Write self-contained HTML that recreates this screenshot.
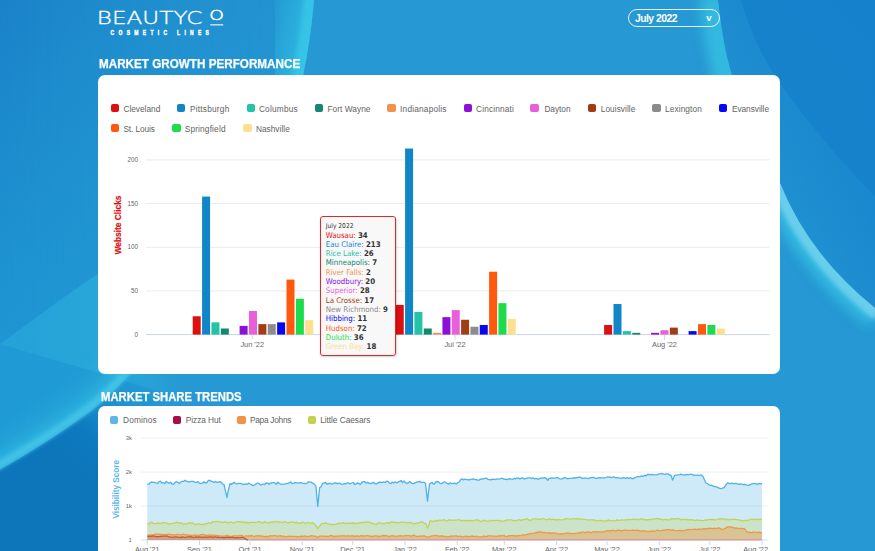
<!DOCTYPE html>
<html lang="en"><head><meta charset="utf-8"><title>BeautyCo Dashboard</title>
<style>
*{box-sizing:border-box;margin:0;padding:0}
html,body{width:875px;height:551px;overflow:hidden;background:#2698d3;font-family:"Liberation Sans",sans-serif}
#bg{position:absolute;left:0;top:0;width:875px;height:551px;overflow:hidden}
#bg svg{display:block}
.logo{position:absolute;left:0;top:0;width:300px;height:40px}
.select{position:absolute;left:627.7px;top:9.1px;width:92px;height:18.2px;border:1.4px solid rgba(255,255,255,.88);border-radius:10px;color:#fff;font-weight:bold;font-size:10.4px;letter-spacing:-0.52px;line-height:16.4px;padding-left:6.2px}
.select span{position:relative;top:0.8px}
.select i{position:absolute;right:7.0px;top:0.4px;font-style:normal;font-size:9.6px;letter-spacing:0}
h2{position:absolute;color:#fff;font-weight:bold;font-size:12.3px;-webkit-text-stroke:0.25px #fff;line-height:14px;white-space:nowrap}
.card{position:absolute;left:98px;width:682.4px;background:#fff;border-radius:7px}
.c1{top:74.8px;height:299.4px}
.c2{top:406.2px;height:144.8px;border-radius:7px 7px 0 0;overflow:hidden}
.card svg{position:absolute;left:0;top:0;overflow:visible}
.sw{position:absolute;width:8.4px;height:8px;border-radius:2px}
.lt{position:absolute;font-size:8.3px;line-height:12px;color:#636363;white-space:nowrap}
.ax{font-size:6.3px;fill:#666}
.a2{font-size:5.9px}
.xl{font-size:7.4px;fill:#666}
.yt{font-size:9.6px;font-weight:bold;fill:#dc1010;stroke:#dc1010;stroke-width:0.2px}
.yt2{font-size:9px;font-weight:bold;fill:#5bb8e6}
.tip{position:absolute;left:222.4px;top:140.8px;width:76px;height:140.6px;border:1px solid #dc2a2a;border-radius:3px;background:rgba(247,247,247,.93);box-shadow:0.5px 1px 2px rgba(0,0,0,.18);padding:4.7px 0 0 4.4px;color:#333;white-space:nowrap;font-family:'DejaVu Sans Condensed','DejaVu Sans',sans-serif}
.tth{font-size:6.6px;line-height:9px;height:9.3px;position:relative;top:0.5px}
.ttl{font-size:7.8px;line-height:9.3px;height:9.3px}
</style></head><body>
<div id="bg"><svg width="875" height="551" viewBox="0 0 875 551">
<defs>
<linearGradient id="gv" x1="0" x2="170" y1="0" y2="340" gradientUnits="userSpaceOnUse"><stop offset="0" stop-color="#1a82c8"/><stop offset="0.3" stop-color="#1c8acc"/><stop offset="0.65" stop-color="#1e93d1"/><stop offset="1" stop-color="#1f97d3"/></linearGradient>
<linearGradient id="gh" x1="0" x2="330" y1="0" y2="0" gradientUnits="userSpaceOnUse"><stop offset="0" stop-color="#fff"/><stop offset="0.3" stop-color="#fff" stop-opacity="0.72"/><stop offset="0.65" stop-color="#fff" stop-opacity="0.42"/><stop offset="1" stop-color="#fff" stop-opacity="0.3"/></linearGradient>
<mask id="mh"><rect width="330" height="551" fill="url(#gh)"/></mask>
<linearGradient id="gr" x1="730" x2="875" y1="120" y2="40" gradientUnits="userSpaceOnUse"><stop offset="0" stop-color="#1f91d1"/><stop offset="0.5" stop-color="#1a88ce"/><stop offset="1" stop-color="#1a87cd"/></linearGradient>
<linearGradient id="gr2" x1="760" x2="875" y1="120" y2="20" gradientUnits="userSpaceOnUse"><stop offset="0" stop-color="#1783cc"/><stop offset="1" stop-color="#1580cb"/></linearGradient>
<linearGradient id="gd" x1="70" x2="150" y1="465" y2="385" gradientUnits="userSpaceOnUse"><stop offset="0" stop-color="#0b76bb"/><stop offset="0.3" stop-color="#0c79be"/><stop offset="1" stop-color="#1a8ccc" stop-opacity="0"/></linearGradient>
<linearGradient id="gt" x1="0" x2="190" y1="0" y2="0" gradientUnits="userSpaceOnUse"><stop offset="0" stop-color="#27a5d9" stop-opacity="0.75"/><stop offset="0.55" stop-color="#28a7da" stop-opacity="1"/><stop offset="0.7" stop-color="#28a7da" stop-opacity="1"/><stop offset="1" stop-color="#28a2d8" stop-opacity="0"/></linearGradient>
<linearGradient id="gt2" x1="0" x2="190" y1="0" y2="0" gradientUnits="userSpaceOnUse"><stop offset="0" stop-color="#209dd5" stop-opacity="0.6"/><stop offset="0.7" stop-color="#229ed6" stop-opacity="0.6"/><stop offset="1" stop-color="#229ed6" stop-opacity="0"/></linearGradient>
<filter id="b1" x="-20%" y="-20%" width="140%" height="140%"><feGaussianBlur stdDeviation="1.2"/></filter>
<filter id="b2" x="-20%" y="-20%" width="140%" height="140%"><feGaussianBlur stdDeviation="2"/></filter>
<filter id="b3" x="-10%" y="-10%" width="120%" height="120%"><feGaussianBlur stdDeviation="2.2"/></filter>
<filter id="b4" x="-30%" y="-30%" width="160%" height="160%"><feGaussianBlur stdDeviation="4"/></filter>
<filter id="b6" x="-20%" y="-20%" width="140%" height="140%"><feGaussianBlur stdDeviation="6"/></filter>
<filter id="b10" x="-30%" y="-30%" width="160%" height="160%"><feGaussianBlur stdDeviation="10"/></filter>
<clipPath id="cl1"><path d="M718,0 C722,35 726,55 732,75 C742,110 760,148 780,183 Q808.5,254.5 875,308 L875,551 L0,551 L0,0 Z"/></clipPath>
<clipPath id="cl2"><path d="M0,0 L314,0 Q310.5,40 303,76 C290,180 220,290 129,375 C118,387 105,400 91,411 C62,432 30,452.5 0,469.5 Z"/></clipPath>
</defs>
<rect width="875" height="551" fill="#2698d3"/>
<g clip-path="url(#cl2)"><rect width="330" height="551" fill="url(#gv)" mask="url(#mh)"/></g>
<!-- right dark zone -->
<path d="M718,0 C722,35 726,55 732,75 C742,110 760,148 780,183 Q808.5,254.5 875,308 L875,0 Z" fill="url(#gr)"/>
<path d="M741,0 C752,40 770,70 789,96 S840,160 875,197 L875,0 Z" fill="url(#gr2)"/>
<!-- right streak -->
<g clip-path="url(#cl1)">
<path d="M718,-5 C722,35 726,55 732,75 C742,110 760,148 780,183 Q808.5,254.5 880,312" fill="none" stroke="#35bde2" stroke-width="38" filter="url(#b6)" opacity="0.9"/>
<path d="M745,120 C752,140 765,160 780,183 Q808.5,254.5 880,312" fill="none" stroke="#7ed6f0" stroke-width="20" filter="url(#b3)" opacity="0.72"/>
</g>
<!-- left light triangle -->
<path d="M0,344 L60,300 L190,210 L190,401 L98,373 Z" fill="url(#gt)"/>
<path d="M0,344 L98,373 L190,401 L190,420 L0,466 Z" fill="url(#gt2)"/>
<!-- dark lower-left -->
<path d="M-20,479.5 C30,451.5 62,432 91,411 C105,400 118,387 129,375 C180,330 240,290 300,270 L300,580 L-20,580 Z" fill="url(#gd)" filter="url(#b3)"/>
<!-- big left swoosh: glow on the inner side of the curve -->
<g clip-path="url(#cl2)">
<path d="M316,-8 Q311,40 304,76 C290,180 220,290 129,375 C118,387 105,400 91,411 C62,432 30,452.5 -5,472" fill="none" stroke="#33bce2" stroke-width="22" filter="url(#b6)" opacity="0.8"/>
<path d="M200,310 Q170,340 129,375 C118,387 105,400 91,411 C62,432 30,452.5 -5,472" fill="none" stroke="#33bce2" stroke-width="50" filter="url(#b10)" opacity="0.36"/>
<path d="M316,-8 Q311,40 303,76 L285,130" fill="none" stroke="#30bde3" stroke-width="66" filter="url(#b10)" opacity="0.6"/>
<path d="M315,-8 Q310,40 302,76 L286,130" fill="none" stroke="#38c8e8" stroke-width="20" filter="url(#b2)" opacity="0.75"/>
</g>
<path d="M-6,468 C28,448.5 60,428.5 89,407.5 C103,396.5 116,384 127,372 T175,335" fill="none" stroke="#4cc6e8" stroke-width="7" filter="url(#b3)" opacity="0.8"/>
</svg>
</div>
<div class="logo"><svg width="300" height="40" viewBox="0 0 300 40">
<text fill="#fff" stroke="#fff" font-family="'DejaVu Sans Light','DejaVu Sans',sans-serif" font-weight="200"><tspan x="96.8" y="23.8" stroke-width="0.36" font-size="18.2" textLength="105.6" lengthAdjust="spacingAndGlyphs">BEAUTYC</tspan><tspan x="209.3" y="20.3" stroke-width="0.5" font-size="13.4" textLength="14.6" lengthAdjust="spacingAndGlyphs">O</tspan></text>
<rect x="210.2" y="24.3" width="13" height="1.1" fill="#fff"/>
<text transform="translate(110.6 34.8) scale(0.62 1)" x="0" y="0" fill="#fff" font-family="'Liberation Sans',sans-serif" font-weight="bold" stroke="#fff" stroke-width="0.5" font-size="8" textLength="158.6" lengthAdjust="spacing">COSMETIC LINES</text>
</svg></div>
<div class="select"><span>July 2022</span><i>v</i></div>
<h2 class="fit" id="h_1" style="left:99.2px;top:57.0px;transform:scaleX(0.9500);transform-origin:0 0;">MARKET GROWTH PERFORMANCE</h2>
<div class="card c1">
<span class="sw" style="left:12.6px;top:29.3px;background:#dc1010"></span>
<span class="lt fit" id="l1_Cleveland" style="left:25.4px;top:27.9px;letter-spacing:-0.001px;">Cleveland</span>
<span class="sw" style="left:78.9px;top:29.3px;background:#1086c8"></span>
<span class="lt fit" id="l1_Pittsburgh" style="left:92.0px;top:27.9px;letter-spacing:0.214px;">Pittsburgh</span>
<span class="sw" style="left:148.6px;top:29.3px;background:#22c3a6"></span>
<span class="lt fit" id="l1_Columbus" style="left:160.9px;top:27.9px;letter-spacing:0.205px;">Columbus</span>
<span class="sw" style="left:217.1px;top:29.3px;background:#13876f"></span>
<span class="lt fit" id="l1_Fort_Wayne" style="left:229.4px;top:27.9px;letter-spacing:0.052px;">Fort Wayne</span>
<span class="sw" style="left:289.2px;top:29.3px;background:#f0924a"></span>
<span class="lt fit" id="l1_Indianapolis" style="left:302.1px;top:27.9px;letter-spacing:0.192px;">Indianapolis</span>
<span class="sw" style="left:365.7px;top:29.3px;background:#8c10d8"></span>
<span class="lt fit" id="l1_Cincinnati" style="left:378.0px;top:27.9px;letter-spacing:0.146px;">Cincinnati</span>
<span class="sw" style="left:432.4px;top:29.3px;background:#e85fd9"></span>
<span class="lt fit" id="l1_Dayton" style="left:446.4px;top:27.9px;letter-spacing:-0.033px;">Dayton</span>
<span class="sw" style="left:489.8px;top:29.3px;background:#a23c12"></span>
<span class="lt fit" id="l1_Louisville" style="left:502.8px;top:27.9px;letter-spacing:0.036px;">Louisville</span>
<span class="sw" style="left:554.2px;top:29.3px;background:#8c8c8c"></span>
<span class="lt fit" id="l1_Lexington" style="left:567.0px;top:27.9px;letter-spacing:0.102px;">Lexington</span>
<span class="sw" style="left:620.5px;top:29.3px;background:#0808f0"></span>
<span class="lt fit" id="l1_Evansville" style="left:633.9px;top:27.9px;letter-spacing:-0.026px;">Evansville</span>
<span class="sw" style="left:12.6px;top:49.5px;background:#ff590e"></span>
<span class="lt fit" id="l1_St_Louis" style="left:25.4px;top:48.5px;letter-spacing:-0.100px;">St. Louis</span>
<span class="sw" style="left:74.2px;top:49.5px;background:#1ddc4c"></span>
<span class="lt fit" id="l1_Springfield" style="left:86.7px;top:48.5px;letter-spacing:0.162px;">Springfield</span>
<span class="sw" style="left:145.3px;top:49.5px;background:#fbe18d"></span>
<span class="lt fit" id="l1_Nashville" style="left:157.9px;top:48.5px;letter-spacing:0.025px;">Nashville</span>
<svg width="682" height="299">
<line x1="48" x2="671.5" y1="259.6" y2="259.6" stroke="#ccd6eb" stroke-width="1"/>
<text class="ax" x="40.0" y="261.5" text-anchor="end">0</text>
<line x1="48" x2="671.5" y1="215.9" y2="215.9" stroke="#ebebeb" stroke-width="1"/>
<text class="ax" x="40.0" y="217.8" text-anchor="end">50</text>
<line x1="48" x2="671.5" y1="172.3" y2="172.3" stroke="#ebebeb" stroke-width="1"/>
<text class="ax" x="40.0" y="174.2" text-anchor="end">100</text>
<line x1="48" x2="671.5" y1="128.6" y2="128.6" stroke="#ebebeb" stroke-width="1"/>
<text class="ax" x="40.0" y="130.5" text-anchor="end">150</text>
<line x1="48" x2="671.5" y1="84.9" y2="84.9" stroke="#ebebeb" stroke-width="1"/>
<text class="ax" x="40.0" y="86.8" text-anchor="end">200</text>
<rect x="94.70" y="241.26" width="8" height="18.34" fill="#dc1010"/>
<rect x="104.08" y="121.59" width="8" height="138.01" fill="#1086c8"/>
<rect x="113.46" y="247.37" width="8" height="12.23" fill="#22c3a6"/>
<rect x="122.84" y="253.49" width="8" height="6.11" fill="#13876f"/>
<rect x="141.60" y="250.87" width="8" height="8.74" fill="#8c10d8"/>
<rect x="150.98" y="236.02" width="8" height="23.58" fill="#e85fd9"/>
<rect x="160.36" y="249.12" width="8" height="10.48" fill="#a23c12"/>
<rect x="169.74" y="249.12" width="8" height="10.48" fill="#8c8c8c"/>
<rect x="179.12" y="247.37" width="8" height="12.23" fill="#0808f0"/>
<rect x="188.50" y="204.57" width="8" height="55.03" fill="#ff590e"/>
<rect x="197.88" y="223.79" width="8" height="35.81" fill="#1ddc4c"/>
<rect x="207.26" y="245.19" width="8" height="14.41" fill="#fbe18d"/>
<rect x="297.75" y="229.90" width="8" height="29.70" fill="#dc1010"/>
<rect x="307.08" y="73.54" width="8" height="186.06" fill="#1086c8"/>
<rect x="316.42" y="236.89" width="8" height="22.71" fill="#22c3a6"/>
<rect x="325.75" y="253.49" width="8" height="6.11" fill="#13876f"/>
<rect x="335.09" y="257.85" width="8" height="1.75" fill="#f0924a"/>
<rect x="344.43" y="242.13" width="8" height="17.47" fill="#8c10d8"/>
<rect x="353.76" y="235.14" width="8" height="24.46" fill="#e85fd9"/>
<rect x="363.10" y="244.75" width="8" height="14.85" fill="#a23c12"/>
<rect x="372.43" y="251.74" width="8" height="7.86" fill="#8c8c8c"/>
<rect x="381.76" y="249.99" width="8" height="9.61" fill="#0808f0"/>
<rect x="391.10" y="196.71" width="8" height="62.89" fill="#ff590e"/>
<rect x="400.44" y="228.15" width="8" height="31.45" fill="#1ddc4c"/>
<rect x="409.77" y="243.88" width="8" height="15.72" fill="#fbe18d"/>
<rect x="506.10" y="249.99" width="8" height="9.61" fill="#dc1010"/>
<rect x="515.49" y="229.03" width="8" height="30.57" fill="#1086c8"/>
<rect x="524.88" y="256.11" width="8" height="3.49" fill="#22c3a6"/>
<rect x="534.27" y="257.85" width="8" height="1.75" fill="#13876f"/>
<rect x="553.05" y="257.85" width="8" height="1.75" fill="#8c10d8"/>
<rect x="562.44" y="255.23" width="8" height="4.37" fill="#e85fd9"/>
<rect x="571.83" y="252.61" width="8" height="6.99" fill="#a23c12"/>
<rect x="590.61" y="256.11" width="8" height="3.49" fill="#0808f0"/>
<rect x="600.00" y="249.12" width="8" height="10.48" fill="#ff590e"/>
<rect x="609.39" y="249.99" width="8" height="9.61" fill="#1ddc4c"/>
<rect x="618.78" y="253.49" width="8" height="6.11" fill="#fbe18d"/>
<line x1="154.2" x2="154.2" y1="259.6" y2="264.6" stroke="#ccd6eb" stroke-width="1"/>
<text class="xl" x="154.2" y="272.3" text-anchor="middle">Jun '22</text>
<line x1="357.0" x2="357.0" y1="259.6" y2="264.6" stroke="#ccd6eb" stroke-width="1"/>
<text class="xl" x="357.0" y="272.3" text-anchor="middle">Jul '22</text>
<line x1="566.5" x2="566.5" y1="259.6" y2="264.6" stroke="#ccd6eb" stroke-width="1"/>
<text class="xl" x="566.5" y="272.3" text-anchor="middle">Aug '22</text>
<text class="yt" transform="translate(23.4,150.0) rotate(-90)" text-anchor="middle" textLength="59" lengthAdjust="spacingAndGlyphs">Website Clicks</text>
</svg>
<div class="tip">
<div class="tth">July 2022</div>
<div class="ttl"><span style="color:#dc1010">Wausau:</span> <b>34</b></div>
<div class="ttl"><span style="color:#1086c8">Eau Claire:</span> <b>213</b></div>
<div class="ttl"><span style="color:#22c3a6">Rice Lake:</span> <b>26</b></div>
<div class="ttl"><span style="color:#13876f">Minneapolis:</span> <b>7</b></div>
<div class="ttl"><span style="color:#f0924a">River Falls:</span> <b>2</b></div>
<div class="ttl"><span style="color:#8c10d8">Woodbury:</span> <b>20</b></div>
<div class="ttl"><span style="color:#e85fd9">Superior:</span> <b>28</b></div>
<div class="ttl"><span style="color:#a23c12">La Crosse:</span> <b>17</b></div>
<div class="ttl"><span style="color:#8c8c8c">New Richmond:</span> <b>9</b></div>
<div class="ttl"><span style="color:#0808f0">Hibbing:</span> <b>11</b></div>
<div class="ttl"><span style="color:#ff590e">Hudson:</span> <b>72</b></div>
<div class="ttl"><span style="color:#1ddc4c">Duluth:</span> <b>36</b></div>
<div class="ttl"><span style="color:#fbe18d">Green Bay:</span> <b>18</b></div>
</div>
</div>
<h2 class="fit" id="h_2" style="left:101.4px;top:390.1px;transform:scaleX(0.9187);transform-origin:0 0;">MARKET SHARE TRENDS</h2>
<div class="card c2">
<span class="sw" style="left:11.6px;top:9.9px;background:#5bb8e6"></span>
<span class="lt fit" id="l2_Dominos" style="left:25.1px;top:7.7px;letter-spacing:0.121px;">Dominos</span>
<span class="sw" style="left:75.0px;top:9.9px;background:#a80d47"></span>
<span class="lt fit" id="l2_Pizza_Hut" style="left:87.8px;top:7.7px;letter-spacing:-0.057px;">Pizza Hut</span>
<span class="sw" style="left:139.3px;top:9.9px;background:#f0924a"></span>
<span class="lt fit" id="l2_Papa_Johns" style="left:152.0px;top:7.7px;letter-spacing:-0.273px;">Papa Johns</span>
<span class="sw" style="left:209.5px;top:9.9px;background:#c3d350"></span>
<span class="lt fit" id="l2_Little_Caesars" style="left:222.2px;top:7.7px;letter-spacing:-0.045px;">Little Caesars</span>
<svg width="682" height="145">
<line x1="43" x2="669.7" y1="32.1" y2="32.1" stroke="#efefef"/>
<text class="ax a2" x="33.900000000000006" y="34.1" text-anchor="end">3k</text>
<line x1="43" x2="669.7" y1="66.1" y2="66.1" stroke="#efefef"/>
<text class="ax a2" x="33.900000000000006" y="68.1" text-anchor="end">2k</text>
<line x1="43" x2="669.7" y1="100.1" y2="100.1" stroke="#efefef"/>
<text class="ax a2" x="33.900000000000006" y="102.1" text-anchor="end">1k</text>
<line x1="43" x2="669.7" y1="134.0" y2="134.0" stroke="#d4dcec"/>
<text class="ax a2" x="33.900000000000006" y="136.0" text-anchor="end">1</text>
<path d="M49.3 78.2 L50.8 78.3 L52.0 76.8 L53.6 76.0 L55.1 76.4 L56.5 76.4 L58.0 77.0 L59.4 77.5 L60.9 75.9 L62.3 75.2 L63.8 77.1 L65.2 76.7 L66.7 77.5 L68.1 75.7 L69.6 76.3 L71.0 77.3 L72.5 76.3 L73.9 77.9 L75.4 78.4 L77.0 76.8 L78.3 75.5 L79.7 76.3 L81.2 77.5 L82.6 76.3 L84.1 75.3 L85.5 75.4 L87.0 74.2 L88.0 75.1 L89.9 75.5 L91.3 75.9 L92.8 75.4 L94.2 75.4 L95.7 75.5 L97.1 76.3 L98.6 76.3 L100.0 75.7 L102.0 77.6 L102.9 77.4 L104.4 77.2 L105.8 75.7 L107.3 77.0 L108.7 76.8 L110.2 74.5 L112.0 74.3 L113.1 75.2 L114.5 75.6 L116.0 76.5 L117.4 75.5 L118.9 76.4 L120.3 76.4 L121.8 75.6 L123.0 76.0 L124.7 78.2 L126.0 78.4 L127.6 85.3 L129.0 91.5 L130.5 83.5 L132.0 77.7 L133.4 78.4 L134.8 77.4 L136.3 76.3 L137.0 76.9 L137.7 77.6 L139.2 77.9 L140.6 77.3 L142.1 77.3 L143.5 77.6 L145.0 78.5 L146.4 78.3 L147.9 77.9 L149.3 78.1 L150.8 77.1 L152.0 78.0 L153.7 78.7 L155.1 79.7 L156.6 78.9 L158.0 78.0 L159.5 77.0 L160.9 77.5 L162.4 78.9 L163.8 78.8 L165.3 78.0 L166.7 78.5 L168.2 77.0 L169.6 77.1 L171.1 78.3 L172.0 77.2 L174.0 77.0 L175.4 76.4 L176.9 76.9 L178.3 78.2 L179.8 76.1 L181.2 77.4 L182.7 78.0 L184.1 78.4 L185.6 78.1 L187.0 78.2 L188.5 77.5 L189.9 77.3 L191.4 76.9 L192.8 75.8 L194.3 77.6 L195.7 77.4 L197.2 76.3 L198.6 76.8 L200.1 76.9 L202.0 76.9 L203.0 76.6 L204.4 77.0 L205.9 77.5 L207.3 77.6 L208.8 77.3 L210.2 76.0 L211.7 76.2 L213.1 76.1 L214.6 77.2 L216.0 77.8 L218.0 80.3 L218.9 91.5 L219.8 100.4 L221.6 81.8 L223.3 80.4 L224.0 78.7 L224.7 77.4 L226.2 76.8 L227.6 76.5 L229.1 78.4 L230.5 77.7 L232.0 77.1 L233.4 78.2 L234.9 77.8 L236.3 77.0 L237.8 76.9 L239.2 77.8 L240.7 77.2 L242.1 77.2 L243.6 78.4 L245.0 78.1 L246.5 77.6 L247.9 77.8 L249.4 76.7 L250.8 77.2 L252.0 77.9 L253.7 77.0 L255.2 76.5 L256.6 78.4 L258.1 77.9 L259.5 76.9 L261.0 77.6 L262.4 78.3 L263.9 76.4 L265.3 75.7 L266.8 75.7 L268.2 77.2 L269.7 76.2 L271.1 77.3 L272.6 77.5 L274.0 77.2 L275.5 76.2 L276.9 77.8 L278.4 77.9 L279.8 77.1 L281.3 75.9 L282.0 76.6 L282.7 76.2 L284.2 76.5 L285.6 75.9 L287.1 76.5 L288.5 75.2 L290.0 75.3 L291.4 77.1 L292.9 77.5 L294.3 76.1 L295.8 77.0 L297.2 75.8 L298.0 76.3 L298.7 76.8 L300.1 76.1 L301.6 75.4 L303.0 74.5 L304.5 76.6 L305.9 75.0 L307.4 76.6 L308.8 77.5 L310.3 76.8 L311.7 75.5 L313.2 76.9 L314.6 77.7 L316.1 77.3 L317.5 76.6 L319.0 76.0 L320.4 75.8 L321.9 75.3 L323.3 76.4 L325.0 76.3 L326.2 76.3 L327.5 77.6 L329.5 95.3 L330.6 85.2 L331.5 77.9 L334.0 76.5 L334.9 77.6 L336.4 78.0 L337.8 75.8 L339.3 75.5 L340.7 75.8 L342.2 77.6 L343.6 77.7 L345.1 76.6 L346.5 75.8 L348.0 76.8 L349.4 77.6 L350.9 78.1 L352.3 76.7 L353.8 77.7 L355.2 77.5 L356.7 76.9 L358.1 78.0 L360.0 76.5 L361.0 76.1 L363.0 73.4 L363.9 72.9 L365.4 73.9 L366.8 73.2 L368.3 73.7 L369.7 73.7 L371.2 74.0 L372.6 73.4 L374.1 73.1 L375.5 72.9 L377.0 73.7 L378.4 73.6 L379.9 74.1 L381.3 74.1 L382.8 73.0 L384.2 73.2 L385.7 72.6 L387.1 72.3 L388.6 72.2 L390.0 73.4 L391.5 73.6 L392.9 73.8 L394.4 73.1 L395.8 73.3 L397.3 73.5 L398.7 73.0 L400.2 73.1 L402.0 72.9 L403.1 72.3 L404.5 72.4 L406.0 73.3 L407.4 73.1 L408.9 73.6 L410.3 73.0 L411.8 72.6 L413.2 73.1 L414.7 73.4 L416.1 72.2 L417.6 72.8 L419.0 72.1 L420.5 71.9 L421.9 73.0 L423.4 72.0 L424.8 72.0 L426.3 73.1 L427.7 72.6 L429.2 72.0 L430.6 71.8 L432.1 71.8 L433.5 72.6 L435.0 71.9 L436.4 72.8 L437.9 72.3 L439.3 73.0 L440.8 73.2 L442.0 72.3 L443.7 71.9 L445.1 72.1 L446.6 71.6 L448.0 72.3 L449.8 74.3 L450.9 72.5 L452.0 72.3 L453.8 71.9 L455.3 72.2 L456.7 72.1 L458.2 71.9 L459.6 71.4 L461.1 72.5 L462.5 72.9 L464.0 73.1 L465.4 71.9 L466.9 71.6 L468.3 72.1 L469.8 72.8 L471.2 72.4 L472.7 72.4 L474.1 72.4 L475.6 71.8 L477.0 72.0 L478.5 71.7 L479.9 71.5 L481.4 71.2 L482.8 71.3 L484.3 72.5 L485.7 72.0 L487.2 72.2 L488.6 72.2 L490.1 72.7 L491.5 72.0 L493.0 71.6 L494.4 71.5 L495.9 71.5 L497.3 72.2 L498.8 72.5 L500.2 71.8 L502.0 71.7 L503.1 71.8 L504.6 71.9 L506.1 72.0 L507.5 71.5 L509.0 71.0 L510.4 71.2 L511.9 71.0 L513.3 71.6 L514.8 71.2 L516.2 71.0 L517.7 71.8 L519.1 71.5 L520.6 72.2 L522.0 72.0 L523.5 72.5 L524.9 71.6 L526.4 71.8 L527.8 72.4 L529.3 71.5 L530.7 72.5 L532.2 71.7 L533.6 72.3 L535.1 72.8 L536.0 72.2 L538.0 71.3 L539.4 70.5 L540.9 70.6 L542.0 70.7 L543.8 69.9 L545.2 70.4 L546.7 69.2 L548.1 69.8 L549.6 68.5 L551.0 68.3 L552.5 68.9 L554.0 68.4 L555.4 68.9 L556.8 68.9 L558.3 68.8 L559.7 68.6 L561.2 67.8 L562.6 67.9 L564.1 67.5 L565.5 68.2 L567.0 68.3 L568.4 67.8 L570.0 67.8 L571.3 69.0 L573.0 69.2 L574.6 74.0 L575.7 71.6 L576.5 69.7 L577.1 69.4 L578.6 69.1 L580.0 68.8 L582.0 68.7 L582.9 68.1 L584.4 68.8 L585.8 68.8 L587.3 69.0 L588.7 68.3 L590.2 68.6 L591.6 68.3 L593.1 68.3 L594.5 68.5 L596.0 69.4 L597.4 69.1 L598.9 69.1 L600.3 69.4 L602.0 69.2 L603.2 69.0 L605.0 70.4 L606.1 72.9 L608.0 77.1 L609.0 77.5 L611.0 78.7 L611.9 79.3 L613.4 79.2 L614.8 79.9 L616.0 80.5 L617.7 80.6 L619.2 81.1 L620.6 81.8 L622.0 82.4 L623.5 82.7 L625.0 81.8 L626.0 81.9 L627.9 78.8 L629.6 76.9 L630.8 77.2 L632.2 77.8 L633.7 77.0 L635.1 77.6 L637.0 77.6 L638.0 77.3 L639.5 77.8 L640.9 78.3 L642.4 77.8 L643.8 78.2 L645.3 78.5 L646.7 78.4 L648.2 78.9 L649.6 79.1 L651.1 79.4 L652.0 78.6 L654.0 77.9 L655.4 77.7 L656.9 77.5 L658.3 77.9 L659.8 78.3 L661.2 77.3 L662.7 77.8 L664.0 77.7 L664.0 134 L49.3 134 Z" fill="#4fb2e5" fill-opacity="0.28"/>
<path d="M49.3 78.2 L50.8 78.3 L52.0 76.8 L53.6 76.0 L55.1 76.4 L56.5 76.4 L58.0 77.0 L59.4 77.5 L60.9 75.9 L62.3 75.2 L63.8 77.1 L65.2 76.7 L66.7 77.5 L68.1 75.7 L69.6 76.3 L71.0 77.3 L72.5 76.3 L73.9 77.9 L75.4 78.4 L77.0 76.8 L78.3 75.5 L79.7 76.3 L81.2 77.5 L82.6 76.3 L84.1 75.3 L85.5 75.4 L87.0 74.2 L88.0 75.1 L89.9 75.5 L91.3 75.9 L92.8 75.4 L94.2 75.4 L95.7 75.5 L97.1 76.3 L98.6 76.3 L100.0 75.7 L102.0 77.6 L102.9 77.4 L104.4 77.2 L105.8 75.7 L107.3 77.0 L108.7 76.8 L110.2 74.5 L112.0 74.3 L113.1 75.2 L114.5 75.6 L116.0 76.5 L117.4 75.5 L118.9 76.4 L120.3 76.4 L121.8 75.6 L123.0 76.0 L124.7 78.2 L126.0 78.4 L127.6 85.3 L129.0 91.5 L130.5 83.5 L132.0 77.7 L133.4 78.4 L134.8 77.4 L136.3 76.3 L137.0 76.9 L137.7 77.6 L139.2 77.9 L140.6 77.3 L142.1 77.3 L143.5 77.6 L145.0 78.5 L146.4 78.3 L147.9 77.9 L149.3 78.1 L150.8 77.1 L152.0 78.0 L153.7 78.7 L155.1 79.7 L156.6 78.9 L158.0 78.0 L159.5 77.0 L160.9 77.5 L162.4 78.9 L163.8 78.8 L165.3 78.0 L166.7 78.5 L168.2 77.0 L169.6 77.1 L171.1 78.3 L172.0 77.2 L174.0 77.0 L175.4 76.4 L176.9 76.9 L178.3 78.2 L179.8 76.1 L181.2 77.4 L182.7 78.0 L184.1 78.4 L185.6 78.1 L187.0 78.2 L188.5 77.5 L189.9 77.3 L191.4 76.9 L192.8 75.8 L194.3 77.6 L195.7 77.4 L197.2 76.3 L198.6 76.8 L200.1 76.9 L202.0 76.9 L203.0 76.6 L204.4 77.0 L205.9 77.5 L207.3 77.6 L208.8 77.3 L210.2 76.0 L211.7 76.2 L213.1 76.1 L214.6 77.2 L216.0 77.8 L218.0 80.3 L218.9 91.5 L219.8 100.4 L221.6 81.8 L223.3 80.4 L224.0 78.7 L224.7 77.4 L226.2 76.8 L227.6 76.5 L229.1 78.4 L230.5 77.7 L232.0 77.1 L233.4 78.2 L234.9 77.8 L236.3 77.0 L237.8 76.9 L239.2 77.8 L240.7 77.2 L242.1 77.2 L243.6 78.4 L245.0 78.1 L246.5 77.6 L247.9 77.8 L249.4 76.7 L250.8 77.2 L252.0 77.9 L253.7 77.0 L255.2 76.5 L256.6 78.4 L258.1 77.9 L259.5 76.9 L261.0 77.6 L262.4 78.3 L263.9 76.4 L265.3 75.7 L266.8 75.7 L268.2 77.2 L269.7 76.2 L271.1 77.3 L272.6 77.5 L274.0 77.2 L275.5 76.2 L276.9 77.8 L278.4 77.9 L279.8 77.1 L281.3 75.9 L282.0 76.6 L282.7 76.2 L284.2 76.5 L285.6 75.9 L287.1 76.5 L288.5 75.2 L290.0 75.3 L291.4 77.1 L292.9 77.5 L294.3 76.1 L295.8 77.0 L297.2 75.8 L298.0 76.3 L298.7 76.8 L300.1 76.1 L301.6 75.4 L303.0 74.5 L304.5 76.6 L305.9 75.0 L307.4 76.6 L308.8 77.5 L310.3 76.8 L311.7 75.5 L313.2 76.9 L314.6 77.7 L316.1 77.3 L317.5 76.6 L319.0 76.0 L320.4 75.8 L321.9 75.3 L323.3 76.4 L325.0 76.3 L326.2 76.3 L327.5 77.6 L329.5 95.3 L330.6 85.2 L331.5 77.9 L334.0 76.5 L334.9 77.6 L336.4 78.0 L337.8 75.8 L339.3 75.5 L340.7 75.8 L342.2 77.6 L343.6 77.7 L345.1 76.6 L346.5 75.8 L348.0 76.8 L349.4 77.6 L350.9 78.1 L352.3 76.7 L353.8 77.7 L355.2 77.5 L356.7 76.9 L358.1 78.0 L360.0 76.5 L361.0 76.1 L363.0 73.4 L363.9 72.9 L365.4 73.9 L366.8 73.2 L368.3 73.7 L369.7 73.7 L371.2 74.0 L372.6 73.4 L374.1 73.1 L375.5 72.9 L377.0 73.7 L378.4 73.6 L379.9 74.1 L381.3 74.1 L382.8 73.0 L384.2 73.2 L385.7 72.6 L387.1 72.3 L388.6 72.2 L390.0 73.4 L391.5 73.6 L392.9 73.8 L394.4 73.1 L395.8 73.3 L397.3 73.5 L398.7 73.0 L400.2 73.1 L402.0 72.9 L403.1 72.3 L404.5 72.4 L406.0 73.3 L407.4 73.1 L408.9 73.6 L410.3 73.0 L411.8 72.6 L413.2 73.1 L414.7 73.4 L416.1 72.2 L417.6 72.8 L419.0 72.1 L420.5 71.9 L421.9 73.0 L423.4 72.0 L424.8 72.0 L426.3 73.1 L427.7 72.6 L429.2 72.0 L430.6 71.8 L432.1 71.8 L433.5 72.6 L435.0 71.9 L436.4 72.8 L437.9 72.3 L439.3 73.0 L440.8 73.2 L442.0 72.3 L443.7 71.9 L445.1 72.1 L446.6 71.6 L448.0 72.3 L449.8 74.3 L450.9 72.5 L452.0 72.3 L453.8 71.9 L455.3 72.2 L456.7 72.1 L458.2 71.9 L459.6 71.4 L461.1 72.5 L462.5 72.9 L464.0 73.1 L465.4 71.9 L466.9 71.6 L468.3 72.1 L469.8 72.8 L471.2 72.4 L472.7 72.4 L474.1 72.4 L475.6 71.8 L477.0 72.0 L478.5 71.7 L479.9 71.5 L481.4 71.2 L482.8 71.3 L484.3 72.5 L485.7 72.0 L487.2 72.2 L488.6 72.2 L490.1 72.7 L491.5 72.0 L493.0 71.6 L494.4 71.5 L495.9 71.5 L497.3 72.2 L498.8 72.5 L500.2 71.8 L502.0 71.7 L503.1 71.8 L504.6 71.9 L506.1 72.0 L507.5 71.5 L509.0 71.0 L510.4 71.2 L511.9 71.0 L513.3 71.6 L514.8 71.2 L516.2 71.0 L517.7 71.8 L519.1 71.5 L520.6 72.2 L522.0 72.0 L523.5 72.5 L524.9 71.6 L526.4 71.8 L527.8 72.4 L529.3 71.5 L530.7 72.5 L532.2 71.7 L533.6 72.3 L535.1 72.8 L536.0 72.2 L538.0 71.3 L539.4 70.5 L540.9 70.6 L542.0 70.7 L543.8 69.9 L545.2 70.4 L546.7 69.2 L548.1 69.8 L549.6 68.5 L551.0 68.3 L552.5 68.9 L554.0 68.4 L555.4 68.9 L556.8 68.9 L558.3 68.8 L559.7 68.6 L561.2 67.8 L562.6 67.9 L564.1 67.5 L565.5 68.2 L567.0 68.3 L568.4 67.8 L570.0 67.8 L571.3 69.0 L573.0 69.2 L574.6 74.0 L575.7 71.6 L576.5 69.7 L577.1 69.4 L578.6 69.1 L580.0 68.8 L582.0 68.7 L582.9 68.1 L584.4 68.8 L585.8 68.8 L587.3 69.0 L588.7 68.3 L590.2 68.6 L591.6 68.3 L593.1 68.3 L594.5 68.5 L596.0 69.4 L597.4 69.1 L598.9 69.1 L600.3 69.4 L602.0 69.2 L603.2 69.0 L605.0 70.4 L606.1 72.9 L608.0 77.1 L609.0 77.5 L611.0 78.7 L611.9 79.3 L613.4 79.2 L614.8 79.9 L616.0 80.5 L617.7 80.6 L619.2 81.1 L620.6 81.8 L622.0 82.4 L623.5 82.7 L625.0 81.8 L626.0 81.9 L627.9 78.8 L629.6 76.9 L630.8 77.2 L632.2 77.8 L633.7 77.0 L635.1 77.6 L637.0 77.6 L638.0 77.3 L639.5 77.8 L640.9 78.3 L642.4 77.8 L643.8 78.2 L645.3 78.5 L646.7 78.4 L648.2 78.9 L649.6 79.1 L651.1 79.4 L652.0 78.6 L654.0 77.9 L655.4 77.7 L656.9 77.5 L658.3 77.9 L659.8 78.3 L661.2 77.3 L662.7 77.8 L664.0 77.7" fill="none" stroke="#4fb2e5" stroke-width="1.3" stroke-linejoin="round"/>
<path d="M49.3 117.3 L50.8 118.0 L52.2 116.5 L53.6 116.1 L55.1 117.4 L56.5 117.6 L58.0 117.6 L59.4 117.0 L60.9 117.3 L62.3 117.4 L63.8 117.4 L65.2 116.6 L66.7 116.9 L68.1 116.9 L69.6 117.6 L71.0 118.3 L72.0 117.7 L73.9 117.6 L75.4 117.3 L76.8 117.0 L78.3 116.4 L79.7 116.2 L81.2 117.0 L82.6 117.0 L84.1 117.2 L85.5 118.2 L87.0 117.9 L88.4 117.9 L89.9 117.3 L91.3 116.7 L92.8 117.1 L94.2 116.9 L95.7 117.5 L97.1 118.7 L98.6 118.5 L100.0 117.6 L102.0 118.2 L102.9 118.5 L104.4 118.3 L105.8 118.4 L107.3 118.0 L108.7 117.7 L110.2 116.7 L111.6 117.3 L113.1 117.3 L114.5 115.7 L116.0 116.1 L117.0 115.7 L118.9 115.5 L120.3 115.6 L121.8 115.6 L123.2 116.4 L124.7 116.0 L126.1 116.4 L127.6 115.7 L129.0 116.5 L130.5 116.8 L131.9 116.1 L133.4 116.1 L134.8 116.8 L136.3 116.7 L137.7 116.2 L139.2 115.6 L140.6 115.6 L142.1 116.3 L143.5 115.5 L145.0 116.7 L146.4 115.9 L147.9 116.9 L149.3 116.1 L150.8 117.1 L152.0 116.5 L153.7 116.4 L155.1 116.3 L156.6 116.6 L158.0 116.5 L159.5 116.0 L160.9 115.6 L162.4 116.0 L163.8 116.9 L165.3 116.7 L166.7 115.5 L168.2 116.5 L169.6 116.7 L171.1 117.1 L172.5 115.8 L174.0 116.5 L175.4 115.4 L176.9 116.1 L178.3 115.6 L179.8 115.4 L181.2 116.5 L182.0 115.8 L182.7 116.0 L184.1 116.8 L185.6 115.9 L187.0 115.6 L188.5 116.8 L189.9 116.4 L191.4 116.9 L192.8 115.8 L194.3 116.1 L195.7 115.9 L197.2 116.8 L198.6 116.1 L200.1 117.5 L202.0 116.8 L203.0 117.4 L204.4 116.3 L205.9 116.4 L207.3 117.5 L208.8 116.7 L210.2 116.5 L211.7 117.4 L213.1 117.2 L214.6 116.5 L216.0 117.7 L217.5 119.2 L218.9 120.8 L219.8 123.0 L221.8 120.0 L223.0 118.2 L224.7 117.3 L226.2 117.4 L227.6 116.8 L229.1 117.4 L230.5 118.1 L232.0 118.3 L233.4 118.7 L234.9 118.5 L236.3 118.6 L237.8 118.3 L239.2 117.8 L240.7 117.1 L242.0 117.5 L243.6 117.1 L245.0 116.6 L246.5 117.0 L247.9 118.0 L249.4 116.9 L250.8 117.4 L252.3 117.2 L253.7 117.3 L255.2 116.6 L256.6 117.9 L258.1 117.1 L259.5 117.4 L261.0 117.2 L262.4 116.3 L263.9 117.0 L265.3 116.4 L266.8 116.1 L268.2 115.9 L269.7 116.1 L271.1 116.0 L272.6 117.0 L274.0 117.1 L275.5 118.0 L276.9 118.2 L278.4 118.4 L279.8 117.0 L281.3 116.9 L282.0 116.8 L282.7 117.1 L284.2 117.3 L285.6 117.7 L287.1 117.6 L288.5 116.8 L290.0 116.8 L291.4 117.0 L292.9 116.0 L294.3 115.8 L295.8 116.4 L297.2 116.1 L298.7 117.1 L300.1 116.5 L302.0 116.7 L303.0 116.3 L304.5 116.2 L305.9 116.1 L307.4 116.6 L308.8 116.7 L310.3 116.4 L311.7 116.9 L313.2 116.3 L314.6 117.3 L316.1 117.8 L317.5 117.5 L319.0 116.8 L320.4 116.7 L321.9 116.7 L323.3 115.7 L325.0 116.4 L326.2 117.1 L328.0 117.8 L329.5 122.4 L330.6 119.8 L332.0 115.0 L333.5 114.9 L334.9 115.6 L336.4 115.2 L337.8 114.4 L339.3 115.3 L340.7 114.4 L342.0 114.0 L343.6 114.6 L345.1 113.7 L346.5 113.8 L348.0 114.8 L349.4 114.9 L350.9 113.7 L352.3 114.1 L353.8 114.2 L355.2 114.3 L356.7 113.9 L358.1 114.5 L359.6 113.7 L361.0 113.8 L362.5 114.1 L363.9 115.0 L365.4 114.2 L366.8 114.8 L368.3 114.3 L369.7 114.6 L371.2 114.5 L372.6 114.6 L374.1 115.0 L375.5 114.7 L377.0 114.2 L378.4 114.0 L379.9 113.9 L381.3 115.0 L382.0 114.9 L382.8 115.5 L384.2 115.3 L385.7 114.2 L387.1 114.7 L388.6 115.1 L390.0 115.1 L391.5 114.8 L392.9 114.4 L394.4 114.4 L395.8 114.9 L397.3 114.3 L398.7 114.4 L400.2 114.4 L401.6 115.0 L403.1 115.0 L404.5 115.2 L406.0 115.1 L407.4 114.3 L408.9 113.9 L410.3 114.1 L411.8 113.8 L413.2 113.9 L414.7 114.3 L416.1 114.8 L417.6 114.4 L419.0 114.6 L420.5 113.7 L422.0 113.9 L423.4 114.6 L424.8 113.6 L426.3 113.6 L427.7 113.0 L429.2 112.8 L430.6 113.8 L432.1 114.3 L433.5 113.9 L435.0 113.0 L436.4 112.9 L437.9 112.7 L439.3 113.2 L440.8 113.3 L442.0 113.0 L443.7 113.1 L445.1 112.5 L446.6 113.0 L448.0 113.7 L449.5 113.8 L450.9 112.9 L452.4 113.2 L453.8 113.6 L455.3 113.1 L456.7 113.8 L458.2 113.5 L459.6 113.8 L461.1 113.5 L462.0 113.7 L464.0 113.9 L465.4 113.6 L466.9 112.9 L468.3 113.0 L469.8 112.4 L471.2 113.0 L472.7 113.5 L474.1 112.7 L475.6 112.8 L477.0 112.8 L478.5 112.6 L479.9 112.9 L481.4 113.3 L482.0 112.8 L482.8 112.7 L484.3 113.5 L485.7 113.0 L487.2 113.5 L488.6 113.6 L490.1 113.9 L491.5 114.2 L493.0 113.5 L494.4 114.0 L495.9 113.9 L497.3 114.3 L498.8 115.0 L500.2 114.9 L502.0 114.4 L503.1 114.5 L504.6 114.8 L506.1 115.1 L507.5 114.9 L509.0 115.0 L510.4 113.9 L511.9 114.8 L513.3 114.7 L514.8 114.5 L516.2 114.9 L517.7 114.9 L519.1 113.8 L520.6 114.4 L522.0 114.5 L523.5 113.7 L524.9 114.2 L526.4 114.1 L527.8 113.5 L529.3 114.1 L530.7 113.3 L532.2 113.7 L533.6 113.6 L535.1 113.2 L536.5 113.5 L538.0 113.5 L539.4 113.0 L540.9 113.9 L542.0 113.3 L543.8 112.7 L545.2 113.1 L546.7 113.8 L548.1 113.7 L549.6 113.8 L551.0 113.5 L552.5 113.6 L553.9 113.2 L555.4 113.0 L556.8 113.2 L558.3 112.6 L559.7 112.5 L561.2 113.4 L562.6 112.9 L564.1 113.5 L565.5 113.8 L567.0 113.3 L568.4 113.5 L569.9 113.8 L571.3 113.9 L572.8 113.0 L574.2 112.7 L575.7 112.9 L577.1 113.0 L578.6 112.9 L580.0 112.4 L582.0 113.1 L582.9 113.9 L584.4 113.4 L585.8 113.5 L587.3 113.3 L588.7 113.4 L590.2 114.1 L591.6 113.6 L593.1 114.0 L594.5 113.9 L596.0 114.0 L597.4 114.7 L598.9 113.7 L600.3 114.5 L602.0 114.3 L603.2 114.4 L604.7 114.6 L606.1 114.4 L607.6 113.9 L609.0 114.3 L610.5 113.3 L611.9 113.7 L613.4 113.4 L614.8 113.5 L616.3 113.9 L617.7 113.9 L619.2 113.6 L620.6 113.0 L622.0 112.9 L623.5 113.0 L625.0 112.8 L626.4 112.8 L627.9 113.9 L629.3 113.1 L630.8 113.9 L632.2 113.6 L633.7 113.5 L635.1 113.5 L636.6 113.2 L638.0 113.7 L639.5 113.6 L640.9 113.9 L642.0 114.2 L643.8 114.7 L645.3 114.9 L646.7 114.3 L648.2 114.3 L649.6 114.6 L651.1 113.9 L652.5 113.3 L654.0 113.2 L655.4 113.1 L656.9 113.7 L658.3 113.4 L659.8 113.2 L661.2 113.7 L662.7 113.1 L664.0 113.4 L664.0 134 L49.3 134 Z" fill="#c4d34f" fill-opacity="0.28"/>
<path d="M49.3 117.3 L50.8 118.0 L52.2 116.5 L53.6 116.1 L55.1 117.4 L56.5 117.6 L58.0 117.6 L59.4 117.0 L60.9 117.3 L62.3 117.4 L63.8 117.4 L65.2 116.6 L66.7 116.9 L68.1 116.9 L69.6 117.6 L71.0 118.3 L72.0 117.7 L73.9 117.6 L75.4 117.3 L76.8 117.0 L78.3 116.4 L79.7 116.2 L81.2 117.0 L82.6 117.0 L84.1 117.2 L85.5 118.2 L87.0 117.9 L88.4 117.9 L89.9 117.3 L91.3 116.7 L92.8 117.1 L94.2 116.9 L95.7 117.5 L97.1 118.7 L98.6 118.5 L100.0 117.6 L102.0 118.2 L102.9 118.5 L104.4 118.3 L105.8 118.4 L107.3 118.0 L108.7 117.7 L110.2 116.7 L111.6 117.3 L113.1 117.3 L114.5 115.7 L116.0 116.1 L117.0 115.7 L118.9 115.5 L120.3 115.6 L121.8 115.6 L123.2 116.4 L124.7 116.0 L126.1 116.4 L127.6 115.7 L129.0 116.5 L130.5 116.8 L131.9 116.1 L133.4 116.1 L134.8 116.8 L136.3 116.7 L137.7 116.2 L139.2 115.6 L140.6 115.6 L142.1 116.3 L143.5 115.5 L145.0 116.7 L146.4 115.9 L147.9 116.9 L149.3 116.1 L150.8 117.1 L152.0 116.5 L153.7 116.4 L155.1 116.3 L156.6 116.6 L158.0 116.5 L159.5 116.0 L160.9 115.6 L162.4 116.0 L163.8 116.9 L165.3 116.7 L166.7 115.5 L168.2 116.5 L169.6 116.7 L171.1 117.1 L172.5 115.8 L174.0 116.5 L175.4 115.4 L176.9 116.1 L178.3 115.6 L179.8 115.4 L181.2 116.5 L182.0 115.8 L182.7 116.0 L184.1 116.8 L185.6 115.9 L187.0 115.6 L188.5 116.8 L189.9 116.4 L191.4 116.9 L192.8 115.8 L194.3 116.1 L195.7 115.9 L197.2 116.8 L198.6 116.1 L200.1 117.5 L202.0 116.8 L203.0 117.4 L204.4 116.3 L205.9 116.4 L207.3 117.5 L208.8 116.7 L210.2 116.5 L211.7 117.4 L213.1 117.2 L214.6 116.5 L216.0 117.7 L217.5 119.2 L218.9 120.8 L219.8 123.0 L221.8 120.0 L223.0 118.2 L224.7 117.3 L226.2 117.4 L227.6 116.8 L229.1 117.4 L230.5 118.1 L232.0 118.3 L233.4 118.7 L234.9 118.5 L236.3 118.6 L237.8 118.3 L239.2 117.8 L240.7 117.1 L242.0 117.5 L243.6 117.1 L245.0 116.6 L246.5 117.0 L247.9 118.0 L249.4 116.9 L250.8 117.4 L252.3 117.2 L253.7 117.3 L255.2 116.6 L256.6 117.9 L258.1 117.1 L259.5 117.4 L261.0 117.2 L262.4 116.3 L263.9 117.0 L265.3 116.4 L266.8 116.1 L268.2 115.9 L269.7 116.1 L271.1 116.0 L272.6 117.0 L274.0 117.1 L275.5 118.0 L276.9 118.2 L278.4 118.4 L279.8 117.0 L281.3 116.9 L282.0 116.8 L282.7 117.1 L284.2 117.3 L285.6 117.7 L287.1 117.6 L288.5 116.8 L290.0 116.8 L291.4 117.0 L292.9 116.0 L294.3 115.8 L295.8 116.4 L297.2 116.1 L298.7 117.1 L300.1 116.5 L302.0 116.7 L303.0 116.3 L304.5 116.2 L305.9 116.1 L307.4 116.6 L308.8 116.7 L310.3 116.4 L311.7 116.9 L313.2 116.3 L314.6 117.3 L316.1 117.8 L317.5 117.5 L319.0 116.8 L320.4 116.7 L321.9 116.7 L323.3 115.7 L325.0 116.4 L326.2 117.1 L328.0 117.8 L329.5 122.4 L330.6 119.8 L332.0 115.0 L333.5 114.9 L334.9 115.6 L336.4 115.2 L337.8 114.4 L339.3 115.3 L340.7 114.4 L342.0 114.0 L343.6 114.6 L345.1 113.7 L346.5 113.8 L348.0 114.8 L349.4 114.9 L350.9 113.7 L352.3 114.1 L353.8 114.2 L355.2 114.3 L356.7 113.9 L358.1 114.5 L359.6 113.7 L361.0 113.8 L362.5 114.1 L363.9 115.0 L365.4 114.2 L366.8 114.8 L368.3 114.3 L369.7 114.6 L371.2 114.5 L372.6 114.6 L374.1 115.0 L375.5 114.7 L377.0 114.2 L378.4 114.0 L379.9 113.9 L381.3 115.0 L382.0 114.9 L382.8 115.5 L384.2 115.3 L385.7 114.2 L387.1 114.7 L388.6 115.1 L390.0 115.1 L391.5 114.8 L392.9 114.4 L394.4 114.4 L395.8 114.9 L397.3 114.3 L398.7 114.4 L400.2 114.4 L401.6 115.0 L403.1 115.0 L404.5 115.2 L406.0 115.1 L407.4 114.3 L408.9 113.9 L410.3 114.1 L411.8 113.8 L413.2 113.9 L414.7 114.3 L416.1 114.8 L417.6 114.4 L419.0 114.6 L420.5 113.7 L422.0 113.9 L423.4 114.6 L424.8 113.6 L426.3 113.6 L427.7 113.0 L429.2 112.8 L430.6 113.8 L432.1 114.3 L433.5 113.9 L435.0 113.0 L436.4 112.9 L437.9 112.7 L439.3 113.2 L440.8 113.3 L442.0 113.0 L443.7 113.1 L445.1 112.5 L446.6 113.0 L448.0 113.7 L449.5 113.8 L450.9 112.9 L452.4 113.2 L453.8 113.6 L455.3 113.1 L456.7 113.8 L458.2 113.5 L459.6 113.8 L461.1 113.5 L462.0 113.7 L464.0 113.9 L465.4 113.6 L466.9 112.9 L468.3 113.0 L469.8 112.4 L471.2 113.0 L472.7 113.5 L474.1 112.7 L475.6 112.8 L477.0 112.8 L478.5 112.6 L479.9 112.9 L481.4 113.3 L482.0 112.8 L482.8 112.7 L484.3 113.5 L485.7 113.0 L487.2 113.5 L488.6 113.6 L490.1 113.9 L491.5 114.2 L493.0 113.5 L494.4 114.0 L495.9 113.9 L497.3 114.3 L498.8 115.0 L500.2 114.9 L502.0 114.4 L503.1 114.5 L504.6 114.8 L506.1 115.1 L507.5 114.9 L509.0 115.0 L510.4 113.9 L511.9 114.8 L513.3 114.7 L514.8 114.5 L516.2 114.9 L517.7 114.9 L519.1 113.8 L520.6 114.4 L522.0 114.5 L523.5 113.7 L524.9 114.2 L526.4 114.1 L527.8 113.5 L529.3 114.1 L530.7 113.3 L532.2 113.7 L533.6 113.6 L535.1 113.2 L536.5 113.5 L538.0 113.5 L539.4 113.0 L540.9 113.9 L542.0 113.3 L543.8 112.7 L545.2 113.1 L546.7 113.8 L548.1 113.7 L549.6 113.8 L551.0 113.5 L552.5 113.6 L553.9 113.2 L555.4 113.0 L556.8 113.2 L558.3 112.6 L559.7 112.5 L561.2 113.4 L562.6 112.9 L564.1 113.5 L565.5 113.8 L567.0 113.3 L568.4 113.5 L569.9 113.8 L571.3 113.9 L572.8 113.0 L574.2 112.7 L575.7 112.9 L577.1 113.0 L578.6 112.9 L580.0 112.4 L582.0 113.1 L582.9 113.9 L584.4 113.4 L585.8 113.5 L587.3 113.3 L588.7 113.4 L590.2 114.1 L591.6 113.6 L593.1 114.0 L594.5 113.9 L596.0 114.0 L597.4 114.7 L598.9 113.7 L600.3 114.5 L602.0 114.3 L603.2 114.4 L604.7 114.6 L606.1 114.4 L607.6 113.9 L609.0 114.3 L610.5 113.3 L611.9 113.7 L613.4 113.4 L614.8 113.5 L616.3 113.9 L617.7 113.9 L619.2 113.6 L620.6 113.0 L622.0 112.9 L623.5 113.0 L625.0 112.8 L626.4 112.8 L627.9 113.9 L629.3 113.1 L630.8 113.9 L632.2 113.6 L633.7 113.5 L635.1 113.5 L636.6 113.2 L638.0 113.7 L639.5 113.6 L640.9 113.9 L642.0 114.2 L643.8 114.7 L645.3 114.9 L646.7 114.3 L648.2 114.3 L649.6 114.6 L651.1 113.9 L652.5 113.3 L654.0 113.2 L655.4 113.1 L656.9 113.7 L658.3 113.4 L659.8 113.2 L661.2 113.7 L662.7 113.1 L664.0 113.4" fill="none" stroke="#c4d34f" stroke-width="1.3" stroke-linejoin="round"/>
<path d="M49.3 129.2 L50.8 129.2 L52.2 128.9 L53.6 129.0 L55.1 129.0 L56.5 128.3 L58.0 127.9 L59.4 128.6 L60.9 128.1 L62.0 128.1 L63.8 128.7 L65.2 128.4 L66.7 128.7 L68.1 128.4 L69.6 128.5 L71.0 128.1 L72.5 128.4 L73.9 128.9 L75.4 128.6 L76.8 128.8 L78.3 128.8 L79.7 128.2 L81.2 128.7 L82.6 128.8 L84.1 128.5 L85.5 128.1 L87.0 128.9 L88.4 128.8 L89.9 129.0 L91.3 129.3 L92.8 129.2 L94.2 129.5 L95.7 129.0 L97.1 129.3 L98.6 129.0 L100.0 129.5 L102.0 129.2 L102.9 128.6 L104.4 128.5 L105.8 128.6 L107.3 129.4 L108.7 129.2 L110.2 129.3 L111.6 129.0 L113.1 129.2 L114.5 129.1 L116.0 129.1 L117.4 129.3 L118.9 129.4 L120.3 129.8 L121.8 129.8 L123.2 130.0 L124.7 130.1 L126.1 130.2 L127.6 130.0 L129.0 129.3 L130.5 129.9 L131.9 130.2 L133.4 130.3 L134.8 130.0 L136.3 130.0 L137.7 129.5 L139.2 130.0 L140.6 130.0 L142.1 129.6 L143.5 129.3 L145.0 130.1 L146.4 130.5 L147.9 129.7 L149.3 130.2 L150.8 130.0 L152.0 129.9 L153.7 129.7 L155.1 130.2 L156.6 130.5 L158.0 129.7 L159.5 130.1 L160.9 129.6 L162.4 130.1 L163.8 129.9 L165.3 130.4 L166.7 130.7 L168.2 130.3 L169.6 130.7 L171.1 130.1 L172.5 129.7 L174.0 130.1 L175.4 129.6 L176.9 129.6 L178.3 129.9 L179.8 130.2 L181.2 129.8 L182.7 129.6 L184.1 130.4 L185.6 130.1 L187.0 130.7 L188.5 130.8 L189.9 130.3 L191.4 130.2 L192.8 130.3 L194.3 130.4 L195.7 130.4 L197.2 130.4 L198.6 130.5 L200.1 130.8 L202.0 130.4 L203.0 130.2 L204.4 130.5 L205.9 130.1 L207.3 130.0 L208.8 130.7 L210.2 130.4 L211.7 130.3 L213.1 129.7 L214.6 129.9 L216.0 130.2 L217.5 130.1 L218.9 131.1 L219.8 131.4 L221.8 130.2 L223.0 130.2 L224.7 130.2 L226.2 130.4 L227.6 130.1 L229.1 130.4 L230.5 130.5 L232.0 129.8 L233.4 129.5 L234.9 130.1 L236.3 130.7 L237.8 130.1 L239.2 130.1 L240.7 130.2 L242.1 130.0 L243.6 129.9 L245.0 129.9 L246.5 129.9 L247.9 130.2 L249.4 129.9 L250.8 129.9 L252.3 130.4 L253.7 129.7 L255.2 130.0 L256.6 130.3 L258.1 130.0 L259.5 129.8 L261.0 130.3 L262.4 129.9 L263.9 129.7 L265.3 129.9 L266.8 130.2 L268.2 129.7 L269.7 129.7 L271.1 129.8 L272.6 130.3 L274.0 130.1 L275.5 130.5 L276.9 129.8 L278.4 129.8 L279.8 130.1 L281.3 130.5 L282.7 130.2 L284.2 129.8 L285.6 129.5 L287.1 129.9 L288.5 129.6 L290.0 130.2 L291.4 130.5 L292.9 129.8 L294.3 129.7 L295.8 130.2 L297.2 130.2 L298.7 130.4 L300.1 130.0 L302.0 129.9 L303.0 129.7 L304.5 130.2 L305.9 129.8 L307.4 129.7 L308.8 129.7 L310.3 129.7 L311.7 129.7 L313.2 130.3 L314.6 129.6 L316.1 129.2 L317.5 130.1 L319.0 130.3 L320.4 130.5 L321.9 129.9 L323.3 130.3 L325.0 129.9 L326.2 129.8 L327.7 130.7 L329.5 131.1 L330.6 131.0 L332.0 130.5 L334.0 129.9 L334.9 129.8 L336.4 129.7 L337.8 129.4 L339.3 129.9 L340.7 129.8 L342.2 130.3 L343.6 129.7 L345.1 130.4 L346.5 130.4 L348.0 130.7 L349.4 130.8 L350.9 130.8 L352.3 130.5 L353.8 129.8 L355.2 130.3 L356.7 129.9 L358.1 129.9 L359.6 130.3 L361.0 130.3 L362.5 130.2 L363.9 130.8 L365.4 130.6 L366.8 130.3 L368.3 130.1 L369.7 130.7 L371.2 130.5 L372.0 130.5 L372.6 130.3 L374.1 130.0 L375.5 130.3 L377.0 130.7 L378.4 130.1 L379.9 130.6 L381.3 130.9 L382.8 130.9 L384.2 130.9 L385.7 130.0 L387.1 130.3 L388.6 130.7 L390.0 129.9 L391.5 129.9 L392.9 129.9 L394.4 130.1 L395.8 130.1 L397.3 130.2 L398.7 130.5 L400.2 129.8 L402.0 130.0 L403.1 129.7 L404.5 129.6 L406.0 129.4 L407.4 130.4 L408.9 130.6 L410.3 129.7 L411.8 129.9 L413.2 129.7 L414.7 129.7 L416.1 129.7 L417.6 130.0 L419.0 130.0 L420.5 129.7 L422.0 129.7 L423.4 129.3 L424.8 128.8 L426.3 128.9 L427.7 129.0 L429.2 128.4 L430.6 127.8 L432.0 127.8 L433.5 127.4 L435.0 127.3 L436.4 127.2 L437.9 126.5 L439.3 126.5 L440.0 126.1 L440.8 126.0 L442.2 126.0 L443.7 126.2 L445.1 126.6 L446.6 126.5 L448.0 126.9 L449.5 126.8 L450.9 126.6 L452.0 127.0 L453.8 127.3 L455.3 126.8 L456.7 127.1 L458.2 127.2 L459.6 127.8 L461.1 128.2 L462.0 127.6 L464.0 128.0 L465.4 127.9 L466.9 127.3 L468.3 127.3 L469.8 126.9 L471.2 127.5 L472.7 127.5 L474.1 127.7 L475.6 127.6 L477.0 127.4 L478.5 127.4 L479.9 127.1 L481.4 126.5 L482.8 126.8 L484.3 126.2 L485.7 126.1 L487.2 126.8 L488.6 126.2 L490.1 126.0 L492.0 126.3 L493.0 126.8 L494.4 126.0 L495.9 125.5 L497.3 126.2 L498.8 125.5 L500.2 126.0 L501.7 125.9 L503.1 125.9 L504.6 126.0 L506.1 125.5 L507.5 125.5 L509.0 124.5 L510.4 124.9 L512.0 124.6 L513.3 124.8 L514.8 124.2 L516.2 124.7 L517.7 125.1 L519.1 124.2 L520.6 124.2 L522.0 124.5 L523.5 124.9 L524.9 124.3 L526.4 124.1 L527.8 124.1 L529.3 124.4 L530.7 124.7 L532.2 124.4 L533.6 124.3 L535.1 124.2 L536.0 124.3 L538.0 124.4 L539.4 124.1 L540.9 124.5 L542.3 125.2 L543.8 124.9 L545.2 125.2 L546.7 124.7 L548.1 125.1 L549.6 125.4 L551.0 125.5 L552.0 125.2 L553.9 125.0 L555.4 125.1 L556.8 125.3 L558.3 124.5 L559.7 124.1 L561.2 124.6 L562.6 124.8 L564.1 124.4 L565.5 124.1 L567.0 124.1 L568.4 123.7 L569.9 123.7 L571.3 123.7 L572.8 124.2 L574.2 124.1 L575.7 124.0 L577.1 124.5 L578.6 125.0 L580.0 124.5 L582.0 124.7 L582.9 124.5 L584.4 124.8 L585.8 124.6 L587.3 124.1 L588.7 123.8 L590.2 123.4 L591.6 123.7 L593.1 123.6 L594.5 123.3 L596.0 123.3 L597.4 123.2 L598.9 123.6 L600.3 123.0 L602.0 123.3 L603.2 123.1 L604.7 123.0 L606.1 122.7 L607.6 122.9 L609.0 122.9 L610.0 122.4 L611.9 122.2 L613.4 122.4 L614.8 122.6 L616.3 122.2 L617.7 122.3 L619.2 122.6 L620.0 122.1 L620.6 121.9 L622.1 122.4 L624.0 123.5 L625.0 123.2 L626.4 122.9 L627.9 122.2 L629.0 121.0 L630.8 120.8 L632.2 120.9 L633.7 121.0 L635.1 121.7 L637.0 121.9 L638.0 122.4 L639.5 122.0 L640.9 122.6 L642.4 122.3 L643.8 122.4 L645.3 122.9 L646.0 122.7 L646.7 122.9 L648.2 124.9 L650.0 126.4 L651.1 126.2 L652.5 126.5 L654.0 126.7 L655.4 126.0 L656.9 126.2 L658.3 126.3 L659.8 126.5 L661.2 126.2 L662.7 126.6 L664.0 126.7 L664.0 134 L49.3 134 Z" fill="#ee974a" fill-opacity="0.42"/>
<path d="M49.3 129.2 L50.8 129.2 L52.2 128.9 L53.6 129.0 L55.1 129.0 L56.5 128.3 L58.0 127.9 L59.4 128.6 L60.9 128.1 L62.0 128.1 L63.8 128.7 L65.2 128.4 L66.7 128.7 L68.1 128.4 L69.6 128.5 L71.0 128.1 L72.5 128.4 L73.9 128.9 L75.4 128.6 L76.8 128.8 L78.3 128.8 L79.7 128.2 L81.2 128.7 L82.6 128.8 L84.1 128.5 L85.5 128.1 L87.0 128.9 L88.4 128.8 L89.9 129.0 L91.3 129.3 L92.8 129.2 L94.2 129.5 L95.7 129.0 L97.1 129.3 L98.6 129.0 L100.0 129.5 L102.0 129.2 L102.9 128.6 L104.4 128.5 L105.8 128.6 L107.3 129.4 L108.7 129.2 L110.2 129.3 L111.6 129.0 L113.1 129.2 L114.5 129.1 L116.0 129.1 L117.4 129.3 L118.9 129.4 L120.3 129.8 L121.8 129.8 L123.2 130.0 L124.7 130.1 L126.1 130.2 L127.6 130.0 L129.0 129.3 L130.5 129.9 L131.9 130.2 L133.4 130.3 L134.8 130.0 L136.3 130.0 L137.7 129.5 L139.2 130.0 L140.6 130.0 L142.1 129.6 L143.5 129.3 L145.0 130.1 L146.4 130.5 L147.9 129.7 L149.3 130.2 L150.8 130.0 L152.0 129.9 L153.7 129.7 L155.1 130.2 L156.6 130.5 L158.0 129.7 L159.5 130.1 L160.9 129.6 L162.4 130.1 L163.8 129.9 L165.3 130.4 L166.7 130.7 L168.2 130.3 L169.6 130.7 L171.1 130.1 L172.5 129.7 L174.0 130.1 L175.4 129.6 L176.9 129.6 L178.3 129.9 L179.8 130.2 L181.2 129.8 L182.7 129.6 L184.1 130.4 L185.6 130.1 L187.0 130.7 L188.5 130.8 L189.9 130.3 L191.4 130.2 L192.8 130.3 L194.3 130.4 L195.7 130.4 L197.2 130.4 L198.6 130.5 L200.1 130.8 L202.0 130.4 L203.0 130.2 L204.4 130.5 L205.9 130.1 L207.3 130.0 L208.8 130.7 L210.2 130.4 L211.7 130.3 L213.1 129.7 L214.6 129.9 L216.0 130.2 L217.5 130.1 L218.9 131.1 L219.8 131.4 L221.8 130.2 L223.0 130.2 L224.7 130.2 L226.2 130.4 L227.6 130.1 L229.1 130.4 L230.5 130.5 L232.0 129.8 L233.4 129.5 L234.9 130.1 L236.3 130.7 L237.8 130.1 L239.2 130.1 L240.7 130.2 L242.1 130.0 L243.6 129.9 L245.0 129.9 L246.5 129.9 L247.9 130.2 L249.4 129.9 L250.8 129.9 L252.3 130.4 L253.7 129.7 L255.2 130.0 L256.6 130.3 L258.1 130.0 L259.5 129.8 L261.0 130.3 L262.4 129.9 L263.9 129.7 L265.3 129.9 L266.8 130.2 L268.2 129.7 L269.7 129.7 L271.1 129.8 L272.6 130.3 L274.0 130.1 L275.5 130.5 L276.9 129.8 L278.4 129.8 L279.8 130.1 L281.3 130.5 L282.7 130.2 L284.2 129.8 L285.6 129.5 L287.1 129.9 L288.5 129.6 L290.0 130.2 L291.4 130.5 L292.9 129.8 L294.3 129.7 L295.8 130.2 L297.2 130.2 L298.7 130.4 L300.1 130.0 L302.0 129.9 L303.0 129.7 L304.5 130.2 L305.9 129.8 L307.4 129.7 L308.8 129.7 L310.3 129.7 L311.7 129.7 L313.2 130.3 L314.6 129.6 L316.1 129.2 L317.5 130.1 L319.0 130.3 L320.4 130.5 L321.9 129.9 L323.3 130.3 L325.0 129.9 L326.2 129.8 L327.7 130.7 L329.5 131.1 L330.6 131.0 L332.0 130.5 L334.0 129.9 L334.9 129.8 L336.4 129.7 L337.8 129.4 L339.3 129.9 L340.7 129.8 L342.2 130.3 L343.6 129.7 L345.1 130.4 L346.5 130.4 L348.0 130.7 L349.4 130.8 L350.9 130.8 L352.3 130.5 L353.8 129.8 L355.2 130.3 L356.7 129.9 L358.1 129.9 L359.6 130.3 L361.0 130.3 L362.5 130.2 L363.9 130.8 L365.4 130.6 L366.8 130.3 L368.3 130.1 L369.7 130.7 L371.2 130.5 L372.0 130.5 L372.6 130.3 L374.1 130.0 L375.5 130.3 L377.0 130.7 L378.4 130.1 L379.9 130.6 L381.3 130.9 L382.8 130.9 L384.2 130.9 L385.7 130.0 L387.1 130.3 L388.6 130.7 L390.0 129.9 L391.5 129.9 L392.9 129.9 L394.4 130.1 L395.8 130.1 L397.3 130.2 L398.7 130.5 L400.2 129.8 L402.0 130.0 L403.1 129.7 L404.5 129.6 L406.0 129.4 L407.4 130.4 L408.9 130.6 L410.3 129.7 L411.8 129.9 L413.2 129.7 L414.7 129.7 L416.1 129.7 L417.6 130.0 L419.0 130.0 L420.5 129.7 L422.0 129.7 L423.4 129.3 L424.8 128.8 L426.3 128.9 L427.7 129.0 L429.2 128.4 L430.6 127.8 L432.0 127.8 L433.5 127.4 L435.0 127.3 L436.4 127.2 L437.9 126.5 L439.3 126.5 L440.0 126.1 L440.8 126.0 L442.2 126.0 L443.7 126.2 L445.1 126.6 L446.6 126.5 L448.0 126.9 L449.5 126.8 L450.9 126.6 L452.0 127.0 L453.8 127.3 L455.3 126.8 L456.7 127.1 L458.2 127.2 L459.6 127.8 L461.1 128.2 L462.0 127.6 L464.0 128.0 L465.4 127.9 L466.9 127.3 L468.3 127.3 L469.8 126.9 L471.2 127.5 L472.7 127.5 L474.1 127.7 L475.6 127.6 L477.0 127.4 L478.5 127.4 L479.9 127.1 L481.4 126.5 L482.8 126.8 L484.3 126.2 L485.7 126.1 L487.2 126.8 L488.6 126.2 L490.1 126.0 L492.0 126.3 L493.0 126.8 L494.4 126.0 L495.9 125.5 L497.3 126.2 L498.8 125.5 L500.2 126.0 L501.7 125.9 L503.1 125.9 L504.6 126.0 L506.1 125.5 L507.5 125.5 L509.0 124.5 L510.4 124.9 L512.0 124.6 L513.3 124.8 L514.8 124.2 L516.2 124.7 L517.7 125.1 L519.1 124.2 L520.6 124.2 L522.0 124.5 L523.5 124.9 L524.9 124.3 L526.4 124.1 L527.8 124.1 L529.3 124.4 L530.7 124.7 L532.2 124.4 L533.6 124.3 L535.1 124.2 L536.0 124.3 L538.0 124.4 L539.4 124.1 L540.9 124.5 L542.3 125.2 L543.8 124.9 L545.2 125.2 L546.7 124.7 L548.1 125.1 L549.6 125.4 L551.0 125.5 L552.0 125.2 L553.9 125.0 L555.4 125.1 L556.8 125.3 L558.3 124.5 L559.7 124.1 L561.2 124.6 L562.6 124.8 L564.1 124.4 L565.5 124.1 L567.0 124.1 L568.4 123.7 L569.9 123.7 L571.3 123.7 L572.8 124.2 L574.2 124.1 L575.7 124.0 L577.1 124.5 L578.6 125.0 L580.0 124.5 L582.0 124.7 L582.9 124.5 L584.4 124.8 L585.8 124.6 L587.3 124.1 L588.7 123.8 L590.2 123.4 L591.6 123.7 L593.1 123.6 L594.5 123.3 L596.0 123.3 L597.4 123.2 L598.9 123.6 L600.3 123.0 L602.0 123.3 L603.2 123.1 L604.7 123.0 L606.1 122.7 L607.6 122.9 L609.0 122.9 L610.0 122.4 L611.9 122.2 L613.4 122.4 L614.8 122.6 L616.3 122.2 L617.7 122.3 L619.2 122.6 L620.0 122.1 L620.6 121.9 L622.1 122.4 L624.0 123.5 L625.0 123.2 L626.4 122.9 L627.9 122.2 L629.0 121.0 L630.8 120.8 L632.2 120.9 L633.7 121.0 L635.1 121.7 L637.0 121.9 L638.0 122.4 L639.5 122.0 L640.9 122.6 L642.4 122.3 L643.8 122.4 L645.3 122.9 L646.0 122.7 L646.7 122.9 L648.2 124.9 L650.0 126.4 L651.1 126.2 L652.5 126.5 L654.0 126.7 L655.4 126.0 L656.9 126.2 L658.3 126.3 L659.8 126.5 L661.2 126.2 L662.7 126.6 L664.0 126.7" fill="none" stroke="#ee974a" stroke-width="1.3" stroke-linejoin="round"/>
<path d="M49.3 130.5 L50.8 130.2 L52.2 130.3 L53.6 130.1 L55.1 129.9 L56.5 130.1 L58.0 130.6 L59.4 130.6 L60.9 130.6 L62.0 130.2 L63.8 130.3 L65.2 130.2 L66.7 130.1 L68.1 130.0 L69.6 130.2 L71.0 130.9 L72.5 131.1 L73.9 131.2 L75.4 131.3 L76.8 130.8 L78.3 130.8 L79.7 131.1 L81.2 131.4 L82.0 131.3 L82.6 131.6 L84.1 130.9 L85.5 131.1 L87.0 131.3 L88.4 131.1 L89.9 130.8 L91.3 130.9 L92.8 130.6 L94.2 131.2 L95.7 131.3 L97.1 131.1 L98.6 130.8 L100.0 131.2 L102.0 130.9 L102.9 131.2 L104.4 131.3 L105.8 131.1 L107.3 131.0 L108.7 131.1 L110.2 131.1 L111.6 130.8 L113.1 130.9 L114.5 131.4 L116.0 130.9 L117.4 130.8 L118.9 131.3 L120.3 131.2 L122.0 131.5 L123.2 131.5 L124.7 131.4 L126.1 131.9 L127.6 131.4 L129.0 131.4 L130.5 131.2 L131.9 131.6 L133.4 131.4 L134.8 131.4 L136.3 131.7 L137.7 131.5 L139.2 131.6 L140.6 132.0 L142.0 131.5 L143.5 131.3 L145.0 131.5 L146.0 132.0 L147.9 132.9 L149.3 133.9 L150.4 133.9 L150.4 134 L49.3 134 Z" fill="#a80d47" fill-opacity="0.18"/>
<path d="M49.3 130.5 L50.8 130.2 L52.2 130.3 L53.6 130.1 L55.1 129.9 L56.5 130.1 L58.0 130.6 L59.4 130.6 L60.9 130.6 L62.0 130.2 L63.8 130.3 L65.2 130.2 L66.7 130.1 L68.1 130.0 L69.6 130.2 L71.0 130.9 L72.5 131.1 L73.9 131.2 L75.4 131.3 L76.8 130.8 L78.3 130.8 L79.7 131.1 L81.2 131.4 L82.0 131.3 L82.6 131.6 L84.1 130.9 L85.5 131.1 L87.0 131.3 L88.4 131.1 L89.9 130.8 L91.3 130.9 L92.8 130.6 L94.2 131.2 L95.7 131.3 L97.1 131.1 L98.6 130.8 L100.0 131.2 L102.0 130.9 L102.9 131.2 L104.4 131.3 L105.8 131.1 L107.3 131.0 L108.7 131.1 L110.2 131.1 L111.6 130.8 L113.1 130.9 L114.5 131.4 L116.0 130.9 L117.4 130.8 L118.9 131.3 L120.3 131.2 L122.0 131.5 L123.2 131.5 L124.7 131.4 L126.1 131.9 L127.6 131.4 L129.0 131.4 L130.5 131.2 L131.9 131.6 L133.4 131.4 L134.8 131.4 L136.3 131.7 L137.7 131.5 L139.2 131.6 L140.6 132.0 L142.0 131.5 L143.5 131.3 L145.0 131.5 L146.0 132.0 L147.9 132.9 L149.3 133.9 L150.4 133.9" fill="none" stroke="#c05a3a" stroke-width="1.2" stroke-linejoin="round"/>
<path d="M152.2 133.9 L664.0 133.9" fill="none" stroke="#d9839b" stroke-width="1.1" stroke-opacity="0.7"/>
<line x1="49.3" x2="49.3" y1="134" y2="139" stroke="#ccd6eb"/>
<text class="xl" x="49.3" y="146.3" text-anchor="middle">Aug '21</text>
<line x1="101.5" x2="101.5" y1="134" y2="139" stroke="#ccd6eb"/>
<text class="xl" x="101.5" y="146.3" text-anchor="middle">Sep '21</text>
<line x1="152.0" x2="152.0" y1="134" y2="139" stroke="#ccd6eb"/>
<text class="xl" x="152.0" y="146.3" text-anchor="middle">Oct '21</text>
<line x1="204.2" x2="204.2" y1="134" y2="139" stroke="#ccd6eb"/>
<text class="xl" x="204.2" y="146.3" text-anchor="middle">Nov '21</text>
<line x1="254.7" x2="254.7" y1="134" y2="139" stroke="#ccd6eb"/>
<text class="xl" x="254.7" y="146.3" text-anchor="middle">Dec '21</text>
<line x1="307.0" x2="307.0" y1="134" y2="139" stroke="#ccd6eb"/>
<text class="xl" x="307.0" y="146.3" text-anchor="middle">Jan '22</text>
<line x1="359.2" x2="359.2" y1="134" y2="139" stroke="#ccd6eb"/>
<text class="xl" x="359.2" y="146.3" text-anchor="middle">Feb '22</text>
<line x1="406.3" x2="406.3" y1="134" y2="139" stroke="#ccd6eb"/>
<text class="xl" x="406.3" y="146.3" text-anchor="middle">Mar '22</text>
<line x1="458.5" x2="458.5" y1="134" y2="139" stroke="#ccd6eb"/>
<text class="xl" x="458.5" y="146.3" text-anchor="middle">Apr '22</text>
<line x1="509.0" x2="509.0" y1="134" y2="139" stroke="#ccd6eb"/>
<text class="xl" x="509.0" y="146.3" text-anchor="middle">May '22</text>
<line x1="561.2" x2="561.2" y1="134" y2="139" stroke="#ccd6eb"/>
<text class="xl" x="561.2" y="146.3" text-anchor="middle">Jun '22</text>
<line x1="611.8" x2="611.8" y1="134" y2="139" stroke="#ccd6eb"/>
<text class="xl" x="611.8" y="146.3" text-anchor="middle">Jul '22</text>
<line x1="664.0" x2="664.0" y1="134" y2="139" stroke="#ccd6eb"/>
<text class="xl" x="657.6" y="146.3" text-anchor="middle">Aug '22</text>
<text class="yt2" transform="translate(21.4,83.3) rotate(-90)" text-anchor="middle" textLength="58.5" lengthAdjust="spacingAndGlyphs">Visibility Score</text>
</svg>
</div>
</body></html>
